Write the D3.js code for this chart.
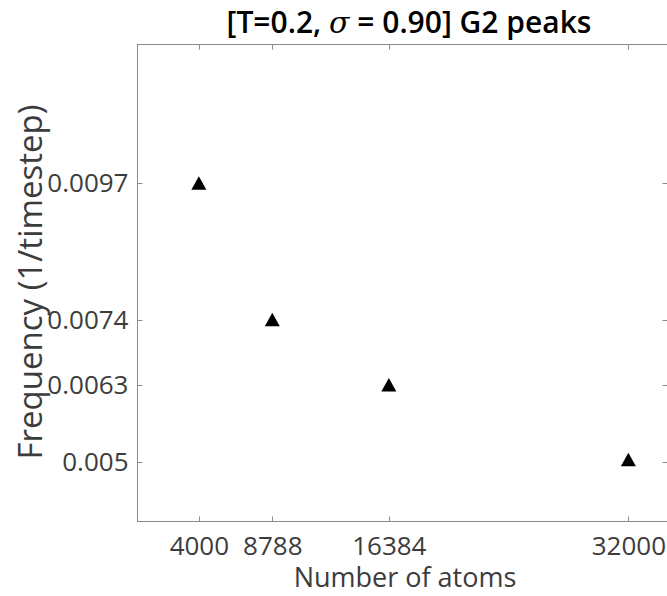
<!DOCTYPE html>
<html>
<head>
<meta charset="utf-8">
<script src="https://cdn.jsdelivr.net/npm/d3@7"></script>
<style>
  body { margin: 0; background: #fff; }
  svg { display: block; }
</style>
</head>
<body>
<div id="chart-area"></div>
<script>
// data
var atoms = [4000, 8788, 16384, 32000];
var freq = [0.0097, 0.0074, 0.0063, 0.00504];
var xTicks = [4000, 8788, 16384, 32000];
var yTicks = [0.005, 0.0063, 0.0074, 0.0097];
var yTickLabels = ["0.005", "0.0063", "0.0074", "0.0097"];

var W = 667, H = 596;
var m = { left: 137.5, right: 667.5, top: 44.5, bottom: 521.5 };
var font = "'Open Sans', 'DejaVu Sans', sans-serif";
var axisGrey = "#8a8a8a";

var svg = d3.select("#chart-area")
    .append("svg")
    .attr("width", W)
    .attr("height", H);

var x = d3.scaleLinear().domain([0, 34550]).range([m.left, m.right]);
var y = d3.scaleLinear().domain([0.004, 0.01204]).range([m.bottom, m.top]);

// box
svg.append("rect")
    .attr("x", m.left).attr("y", m.top)
    .attr("width", m.right - m.left).attr("height", m.bottom - m.top)
    .attr("fill", "none")
    .attr("stroke", axisGrey)
    .attr("stroke-width", 1);

// x ticks, inward on bottom and top
var xTickG = svg.append("g");
xTicks.forEach(function(t) {
    var px = Math.round(x(t)) + 0.5;
    xTickG.append("line").attr("x1", px).attr("x2", px).attr("y1", m.bottom).attr("y2", m.bottom - 5)
        .attr("stroke", axisGrey);
    xTickG.append("line").attr("x1", px).attr("x2", px).attr("y1", m.top).attr("y2", m.top + 5)
        .attr("stroke", axisGrey);
});
var xAxisCall = d3.axisBottom(x).tickValues(xTicks).tickFormat(d3.format("d")).tickSize(0);
var xAxis = svg.append("g")
    .attr("transform", "translate(0," + m.bottom + ")")
    .call(xAxisCall);
xAxis.select(".domain").remove();
xAxis.selectAll("text")
    .attr("y", 33)
    .attr("dy", 0)
    .attr("font-family", font)
    .attr("font-size", "26px")
    .attr("fill", "#3c3c3c");

// y ticks, inward on left and right
var yTickG = svg.append("g");
yTicks.forEach(function(t) {
    var py = Math.round(y(t)) + 0.5;
    yTickG.append("line").attr("x1", m.left).attr("x2", m.left + 5).attr("y1", py).attr("y2", py)
        .attr("stroke", axisGrey);
    yTickG.append("line").attr("x1", m.right).attr("x2", m.right - 5).attr("y1", py).attr("y2", py)
        .attr("stroke", axisGrey);
});
var yAxisCall = d3.axisLeft(y).tickValues(yTicks)
    .tickFormat(function(d, i) { return yTickLabels[i]; })
    .tickSize(0).tickPadding(9);
var yAxis = svg.append("g")
    .attr("transform", "translate(" + m.left + ",0)")
    .call(yAxisCall);
yAxis.select(".domain").remove();
yAxis.selectAll("text")
    .attr("font-family", font)
    .attr("font-size", "26px")
    .attr("fill", "#3c3c3c");

// markers (upward triangles)
svg.append("g").selectAll("path")
    .data(atoms)
    .enter()
    .append("path")
    .attr("d", function(d, i) {
        var cx = x(d), cy = y(freq[i]);
        return "M" + cx + "," + (cy - 7) + "L" + (cx + 7.5) + "," + (cy + 6.5) +
            "L" + (cx - 7.5) + "," + (cy + 6.5) + "Z";
    })
    .attr("fill", "#000");

// title
var title = svg.append("text")
    .attr("x", 409)
    .attr("y", 33)
    .attr("text-anchor", "middle")
    .attr("font-family", font)
    .attr("font-size", "30px")
    .attr("font-weight", "600")
    .attr("fill", "#000");
title.append("tspan").text("[T=0.2, ");
title.append("tspan").attr("font-family", "'DejaVu Serif', serif").attr("font-style", "italic")
    .attr("font-weight", "normal").text("σ");
title.append("tspan").text(" = 0.90] G2 peaks");

// axis labels
svg.append("text")
    .attr("x", 405)
    .attr("y", 587)
    .attr("text-anchor", "middle")
    .attr("font-family", font)
    .attr("font-size", "27px")
    .attr("fill", "#3c3c3c")
    .text("Number of atoms");

svg.append("text")
    .attr("transform", "translate(42,282) rotate(-90)")
    .attr("text-anchor", "middle")
    .attr("font-family", font)
    .attr("font-size", "33px")
    .attr("fill", "#3c3c3c")
    .text("Frequency (1/timestep)");
</script>
</body>
</html>
